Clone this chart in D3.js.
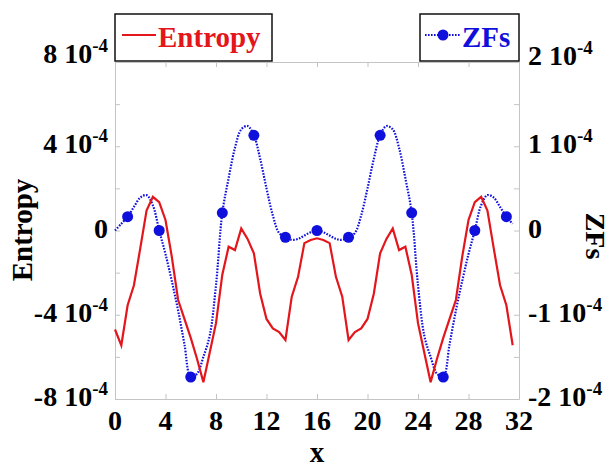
<!DOCTYPE html>
<html>
<head>
<meta charset="utf-8">
<script src="https://cdn.jsdelivr.net/npm/d3@7"></script>
<style>
  body { margin: 0; background: #fff; }
  text { font-family: "Times New Roman", "Liberation Serif", serif; font-weight: bold; }
</style>
</head>
<body>
<script>
var w = 611;
var h = 469;

// x positions (0 .. 31.5, step 0.5)
var xs = [0,0.5,1,1.5,2,2.5,3,3.5,4,4.5,5,5.5,6,6.5,7,7.5,8,8.5,9,9.5,10,10.5,11,11.5,12,12.5,13,13.5,14,14.5,15,15.5,
          16,16.5,17,17.5,18,18.5,19,19.5,20,20.5,21,21.5,22,22.5,23,23.5,24,24.5,25,25.5,26,26.5,27,27.5,28,28.5,29,29.5,30,30.5,31,31.5];

// Entropy, in units of 1e-4 (left axis)
var entropy = [-4.7,-5.45,-3.55,-2.6,-0.85,0.95,1.6,1.35,0.5,-1.25,-3.3,-4.2,-5.1,-6.1,-7.2,-5.8,
               -4.4,-2.1,-0.77,-0.93,0.1,-0.4,-1.08,-3.0,-4.2,-4.65,-4.82,-5.2,-3.14,-2.2,-0.6,-0.45,
               -0.37,-0.45,-0.6,-2.2,-3.14,-5.2,-4.82,-4.65,-4.2,-3.0,-1.08,-0.4,0.1,-0.93,-0.77,-2.1,
               -4.4,-5.8,-7.2,-6.1,-5.1,-4.2,-3.3,-1.25,0.5,1.35,1.6,0.95,-0.85,-2.6,-3.55,-5.45];

// ZFs, in units of 1e-4 (right axis)
var zfs = [0,0.08,0.164,0.28,0.39,0.42,0.3,0,-0.28,-0.6,-0.95,-1.35,-1.74,-1.7,-1.5,-1.25,
           -0.65,0.21,0.62,0.98,1.2,1.24,1.13,0.85,0.5,0.18,-0.03,-0.08,-0.11,-0.1,-0.06,-0.02,
           0,-0.02,-0.06,-0.1,-0.11,-0.08,-0.03,0.18,0.5,0.85,1.13,1.24,1.2,0.98,0.62,0.21,
           -0.65,-1.25,-1.5,-1.7,-1.74,-1.35,-0.95,-0.6,-0.28,0,0.3,0.42,0.39,0.28,0.164,0.08];

var xTicks = [0,4,8,12,16,20,24,28,32];
var leftTicks = [8,4,0,-4,-8];
var rightTicks = [2,1,0,-1,-2];
var expLabel = "-4";

var red = "#e3161c";
var blue = "#1010dc";
var grey = "#c4c4c4";

var x = d3.scaleLinear().domain([0, 32]).range([115, 519]);
var yL = d3.scaleLinear().domain([-8, 8]).range([399, 62]);
var yR = d3.scaleLinear().domain([-2, 2]).range([399, 62]);

var svg = d3.select('body').append('svg')
    .attr('width', w)
    .attr('height', h);

// frame + ticks (inside)
function frame(g) {
  g.selectAll('.domain').attr('stroke', grey);
  g.selectAll('.tick line').attr('stroke', grey);
  g.selectAll('.tick text').remove();
}
svg.append('g').attr('transform', 'translate(0,399)')
   .call(d3.axisBottom(x).tickValues(xTicks).tickSizeInner(-5).tickSizeOuter(0)).call(frame);
svg.append('g').attr('transform', 'translate(0,62)')
   .call(d3.axisTop(x).tickValues(xTicks).tickSizeInner(-5).tickSizeOuter(0)).call(frame);
svg.append('g').attr('transform', 'translate(115,0)')
   .call(d3.axisLeft(yL).ticks(8).tickSizeInner(-5).tickSizeOuter(0)).call(frame);
svg.append('g').attr('transform', 'translate(519,0)')
   .call(d3.axisRight(yR).ticks(8).tickSizeInner(-5).tickSizeOuter(0)).call(frame);

// tick labels
svg.selectAll('.xlab').data(xTicks).enter().append('text')
   .attr('x', function(d) { return x(d); })
   .attr('y', 430)
   .attr('text-anchor', 'middle')
   .attr('font-size', 28)
   .text(function(d) { return d; });

function sciLabel(sel) {
  sel.each(function(d) {
    var t = d3.select(this);
    if (d === 0) { t.text('0'); return; }
    t.append('tspan').text(d + ' 10');
    t.append('tspan').attr('dy', -11).attr('font-size', 19).text(expLabel);
  });
}

svg.selectAll('.llab').data(leftTicks).enter().append('text')
   .attr('x', 108)
   .attr('y', function(d) { return yL(d) + 7 - (d === 8 ? 6 : 0); })
   .attr('text-anchor', 'end')
   .attr('font-size', 28)
   .call(sciLabel);

svg.selectAll('.rlab').data(rightTicks).enter().append('text')
   .attr('x', 528)
   .attr('y', function(d) { return yR(d) + 7 - (d === 2 ? 4 : 0); })
   .attr('text-anchor', 'start')
   .attr('font-size', 28)
   .call(sciLabel);

// axis titles
svg.append('text')
   .attr('transform', 'translate(32,230) rotate(-90)')
   .attr('text-anchor', 'middle')
   .attr('font-size', 29)
   .text('Entropy');

svg.append('text')
   .attr('transform', 'translate(586,236) rotate(90)')
   .attr('text-anchor', 'middle')
   .attr('font-size', 28)
   .text('ZFs');

svg.append('text')
   .attr('x', 317)
   .attr('y', 462)
   .attr('text-anchor', 'middle')
   .attr('font-size', 29)
   .text('x');

// lines
var lineL = d3.line()
   .x(function(d, i) { return x(xs[i]); })
   .y(function(d) { return yL(d); });

var lineR = d3.line()
   .x(function(d, i) { return x(xs[i]); })
   .y(function(d) { return yR(d); })
   .curve(d3.curveCatmullRom);

svg.append('path')
   .datum(zfs)
   .attr('d', lineR)
   .attr('fill', 'none')
   .attr('stroke', blue)
   .attr('stroke-width', 2.2)
   .attr('stroke-dasharray', '1.6,1.4');

svg.append('path')
   .datum(entropy)
   .attr('d', lineL)
   .attr('fill', 'none')
   .attr('stroke', red)
   .attr('stroke-width', 2.2);

// markers every 5th point, starting at x=1
var marks = xs.map(function(v, i) { return {x: v, y: zfs[i], i: i}; })
              .filter(function(d) { return (d.i - 2) % 5 === 0; });
svg.selectAll('.dot').data(marks).enter().append('circle')
   .attr('cx', function(d) { return x(d.x); })
   .attr('cy', function(d) { return yR(d.y); })
   .attr('r', 5.5)
   .attr('fill', blue);

// legends
var leg1 = svg.append('g');
leg1.append('rect').attr('x', 115).attr('y', 14).attr('width', 157).attr('height', 47)
    .attr('fill', '#fff').attr('stroke', '#111').attr('stroke-width', 1.5);
leg1.append('line').attr('x1', 122).attr('x2', 156).attr('y1', 35).attr('y2', 35)
    .attr('stroke', red).attr('stroke-width', 2.2);
leg1.append('text').attr('x', 158).attr('y', 47).attr('font-size', 29).attr('fill', red).text('Entropy');

var leg2 = svg.append('g');
leg2.append('rect').attr('x', 420).attr('y', 14).attr('width', 99).attr('height', 47)
    .attr('fill', '#fff').attr('stroke', '#111').attr('stroke-width', 1.5);
leg2.append('line').attr('x1', 425).attr('x2', 460).attr('y1', 35).attr('y2', 35)
    .attr('stroke', blue).attr('stroke-width', 2.2).attr('stroke-dasharray', '1.6,1.4');
leg2.append('circle').attr('cx', 443).attr('cy', 35).attr('r', 5.5).attr('fill', blue);
leg2.append('text').attr('x', 462).attr('y', 47).attr('font-size', 29).attr('fill', blue).text('ZFs');
</script>
</body>
</html>
